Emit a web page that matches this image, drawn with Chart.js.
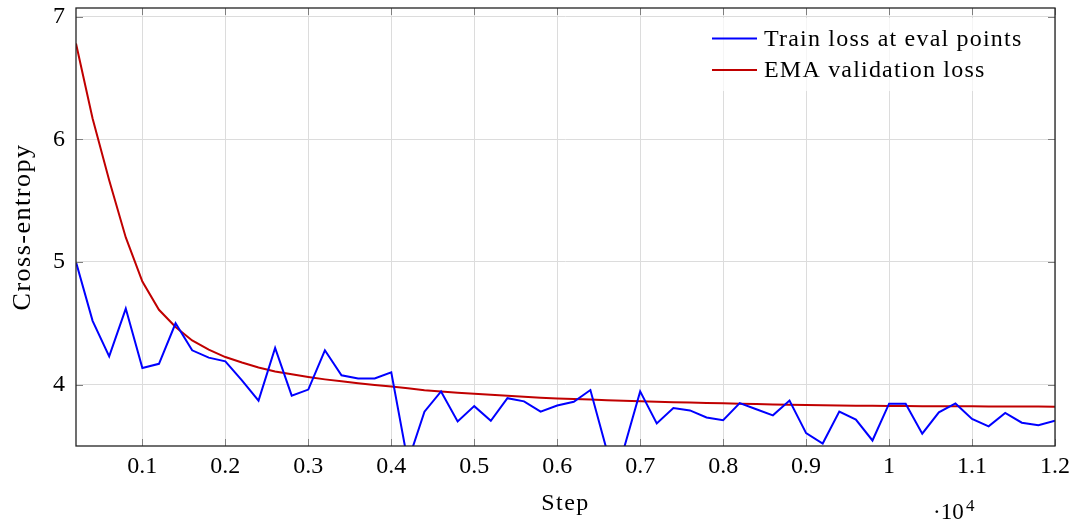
<!DOCTYPE html>
<html>
<head>
<meta charset="utf-8">
<script src="https://cdn.jsdelivr.net/npm/chart.js@4"></script>
<style>
  html, body { margin: 0; padding: 0; background: #fff; }
  #wrap { width: 1075px; height: 521px; }
</style>
</head>
<body>
<div id="wrap"><canvas id="c" width="1075" height="521"></canvas></div>
<script>
// Data
const steps = [200,400,600,800,1000,1200,1400,1600,1800,2000,
  2200,2400,2600,2800,3000,3200,3400,3600,3800,4000,
  4200,4400,4600,4800,5000,5200,5400,5600,5800,6000,
  6200,6400,6600,6800,7000,7200,7400,7600,7800,8000,
  8200,8400,8600,8800,9000,9200,9400,9600,9800,10000,
  10200,10400,10600,10800,11000,11200,11400,11600,11800,12000];

const trainLoss = [5.00,4.52,4.23,4.62,4.135,4.17,4.50,4.28,4.22,4.19,
  4.035,3.87,4.30,3.91,3.96,4.28,4.076,4.05,4.05,4.10,
  3.37,3.78,3.945,3.70,3.825,3.706,3.89,3.864,3.78,3.83,
  3.86,3.956,3.46,3.47,3.945,3.684,3.81,3.79,3.733,3.71,
  3.85,3.80,3.75,3.87,3.605,3.52,3.78,3.715,3.545,3.845,
  3.845,3.60,3.774,3.847,3.72,3.66,3.77,3.69,3.67,3.706];

const emaVal = [6.78,6.17,5.666,5.20,4.84,4.61,4.47,4.36,4.285,4.225,
  4.18,4.14,4.108,4.084,4.062,4.043,4.027,4.011,3.997,3.985,
  3.970,3.955,3.945,3.935,3.926,3.917,3.909,3.901,3.894,3.888,
  3.883,3.878,3.873,3.868,3.864,3.860,3.857,3.854,3.851,3.848,
  3.845,3.842,3.839,3.836,3.834,3.832,3.830,3.829,3.828,3.827,
  3.826,3.825,3.824,3.823,3.823,3.822,3.822,3.821,3.821,3.820];

const xTicks = [1000,2000,3000,4000,5000,6000,7000,8000,9000,10000,11000,12000];
const xTickLabels = ["0.1","0.2","0.3","0.4","0.5","0.6","0.7","0.8","0.9","1","1.1","1.2"];
const yTicks = [4,5,6,7];

const FONT = "'Liberation Serif', 'DejaVu Serif', serif";

// Frame, inner ticks, titles, legend and the x10^4 label
const decor = {
  id: 'decor',
  afterDraw(chart){
    const ctx = chart.ctx;
    const a = chart.chartArea;
    const xs = chart.scales.x, ys = chart.scales.y;
    ctx.save();

    // inner tick marks
    ctx.strokeStyle = '#808080';
    ctx.lineWidth = 1;
    ctx.beginPath();
    xTicks.forEach(t => {
      const px = Math.round(xs.getPixelForValue(t)) + 0.5;
      ctx.moveTo(px, a.bottom); ctx.lineTo(px, a.bottom - 7);
      ctx.moveTo(px, a.top); ctx.lineTo(px, a.top + 7);
    });
    yTicks.forEach(t => {
      const py = Math.round(ys.getPixelForValue(t)) + 0.5;
      ctx.moveTo(a.left, py); ctx.lineTo(a.left + 7, py);
      ctx.moveTo(a.right, py); ctx.lineTo(a.right - 7, py);
    });
    ctx.stroke();

    // legend
    ctx.fillStyle = 'rgba(255,255,255,0.7)';
    ctx.fillRect(702, 18, 340, 73);
    ctx.font = '24px ' + FONT;
    ctx.letterSpacing = '1.2px';
    ctx.textBaseline = 'middle';
    chart.data.datasets.forEach((ds, i) => {
      const y = 38.5 + i * 31.5;
      ctx.strokeStyle = ds.borderColor;
      ctx.lineWidth = 2;
      ctx.beginPath();
      ctx.moveTo(712, y); ctx.lineTo(757, y);
      ctx.stroke();
      ctx.fillStyle = '#000';
      ctx.textAlign = 'left';
      ctx.fillText(ds.label, 764, y + 1);
    });

    // axis titles
    ctx.fillStyle = '#000';
    ctx.textAlign = 'center';
    ctx.textBaseline = 'alphabetic';
    ctx.letterSpacing = '1.5px';
    ctx.fillText('Step', (a.left + a.right) / 2, 510);
    ctx.save();
    ctx.translate(30, (a.top + a.bottom) / 2);
    ctx.rotate(-Math.PI / 2);
    ctx.font = '26px ' + FONT;
    ctx.letterSpacing = '1.5px';
    ctx.fillText('Cross-entropy', 0, 0);
    ctx.restore();

    // frame
    ctx.strokeStyle = '#222';
    ctx.lineWidth = 1.3;
    ctx.strokeRect(a.left, a.top, a.right - a.left, a.bottom - a.top);

    // x10^4 multiplier
    ctx.letterSpacing = '0px';
    ctx.textAlign = 'left';
    ctx.font = '23px ' + FONT;
    ctx.fillText('\u00b710', 933, 519);
    ctx.font = '17px ' + FONT;
    ctx.fillText('4', 966, 511);
    ctx.restore();
    ctx.letterSpacing = '0px';
  }
};

new Chart(document.getElementById('c'), {
  type: 'line',
  data: {
    datasets: [
      {
        label: 'Train loss at eval points',
        data: steps.map((s, i) => ({x: s, y: trainLoss[i]})),
        borderColor: '#0000ff',
        borderWidth: 2,
        pointRadius: 0,
        tension: 0,
        fill: false
      },
      {
        label: 'EMA validation loss',
        data: steps.map((s, i) => ({x: s, y: emaVal[i]})),
        borderColor: '#c00000',
        borderWidth: 2,
        pointRadius: 0,
        tension: 0,
        fill: false
      }
    ]
  },
  options: {
    responsive: false,
    animation: false,
    devicePixelRatio: 1,
    layout: { padding: { left: 0, right: 20, top: 8, bottom: 0 } },
    plugins: {
      legend: { display: false },
      tooltip: { enabled: false }
    },
    scales: {
      x: {
        type: 'linear',
        min: 200,
        max: 12000,
        afterBuildTicks(scale){ scale.ticks = xTicks.map(v => ({value: v})); },
        afterFit(scale){ scale.height = 75; scale.paddingLeft = 0; scale.paddingRight = 0; },
        grid: { color: '#dcdcdc', lineWidth: 1, drawTicks: false },
        border: { display: false },
        ticks: {
          padding: 6,
          color: '#000',
          font: { family: FONT, size: 24 },
          maxRotation: 0,
          autoSkip: false,
          callback: (v) => xTickLabels[xTicks.indexOf(v)]
        }
      },
      y: {
        type: 'linear',
        min: 3.5,
        max: 7.07,
        afterBuildTicks(scale){ scale.ticks = yTicks.map(v => ({value: v})); },
        afterFit(scale){ scale.width = 76; scale.paddingTop = 0; scale.paddingBottom = 0; },
        grid: { color: '#dcdcdc', lineWidth: 1, drawTicks: false },
        border: { display: false },
        ticks: {
          padding: 11,
          color: '#000',
          font: { family: FONT, size: 24 },
          callback: (v) => String(v)
        }
      }
    }
  },
  plugins: [decor]
});
</script>
</body>
</html>
